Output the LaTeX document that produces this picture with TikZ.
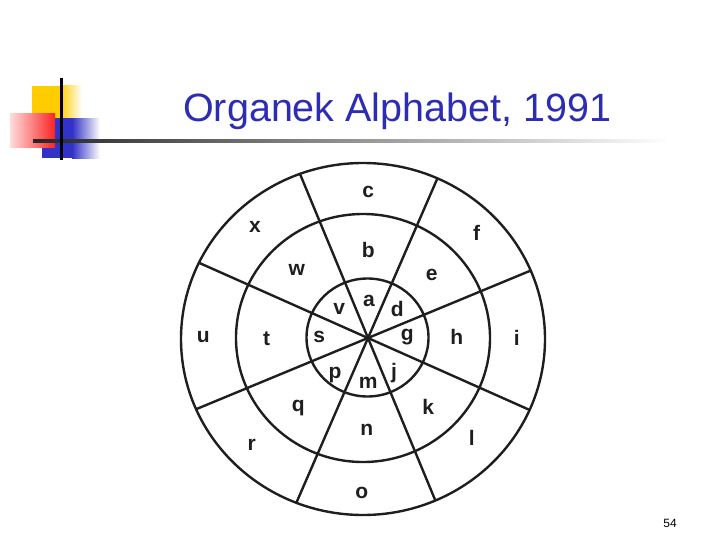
\documentclass[tikz,border=0pt]{standalone}
\usepackage{fontspec}
\setmainfont{Liberation Sans}
\definecolor{titleblue}{RGB}{45,45,180}
\definecolor{decoyellow}{RGB}{255,204,0}
\definecolor{decoblue}{RGB}{50,50,200}
\definecolor{decored}{RGB}{250,35,35}
\definecolor{decopink}{RGB}{255,220,220}
\definecolor{ink}{RGB}{30,30,30}
\tikzset{
  ring/.style={draw=ink, line width=2.4pt},
  spoke/.style={draw=ink, line width=2.4pt},
  ltr/.style={font=\fontsize{21}{21}\selectfont\bfseries, text=ink, inner sep=0pt},
}
\begin{document}
\begin{tikzpicture}[x=1pt,y=-1pt]
\useasboundingbox (0,0) rectangle (720,540);

% decoration
\fill[decoyellow] (31.7,86) rectangle (60,120);
\shade[left color=decoyellow, right color=white] (60,86) rectangle (82,120);
\fill[decoblue] (41.7,118.3) rectangle (72,158.3);
\shade[left color=decoblue, right color=white] (72,118.3) rectangle (100,158.3);
\shade[left color=decopink, right color=decored] (10,113.3) rectangle (55,147.3);
\shade[left color=black!85, right color=white] (33,139.6) rectangle (670,142.4);
\draw[black, line width=3pt] (61,78) -- (61,160);

% title and page number
\node[anchor=base west, font=\fontsize{39.5}{40}\selectfont, text=titleblue, inner sep=0pt] (title) at (183,121.7) {Organek Alphabet, 1991};
\node[font=\fontsize{12}{12}\selectfont, inner sep=0pt] (pg) at (670,523) {54};

% rings
\coordinate (C) at (368,338);
\draw[ring] (363,339) ellipse [x radius=182, y radius=176];
\draw[ring] (363,338) ellipse [x radius=127, y radius=124];
\draw[ring] (367.5,337.5) ellipse [x radius=61, y radius=59];

% spokes
\coordinate (l1a) at (299.9,173.7); \coordinate (l1b) at (435.3,500.4);
\coordinate (l2a) at (437.4,178.4); \coordinate (l2b) at (296.3,502.9);
\coordinate (l3a) at (530.6,270.6); \coordinate (l3b) at (196.1,409.2);
\coordinate (l4a) at (198.8,262.7); \coordinate (l4b) at (529.5,409.9);
\draw[spoke] (l1a) -- (l1b);
\draw[spoke] (l2a) -- (l2b);
\draw[spoke] (l3a) -- (l3b);
\draw[spoke] (l4a) -- (l4b);
\fill[ink] (C) circle [radius=2.6];

% letters
\node[ltr] (c) at (368.3,191.7) {c};
\node[ltr] (x) at (255,226.7) {x};
\node[ltr] (f) at (476.7,233.3) {f};
\node[ltr] (b) at (368.3,250) {b};
\node[ltr] (w) at (296.7,270) {w};
\node[ltr] (e) at (431.7,275) {e};
\node[ltr] (v) at (339.3,309) {v};
\node[ltr] (a) at (369,300.7) {a};
\node[ltr] (d) at (397.3,309.3) {d};
\node[ltr] (u) at (203.3,336.7) {u};
\node[ltr] (t) at (266.7,338.3) {t};
\node[ltr] (s) at (319.3,337.3) {s};
\node[ltr] (g) at (407.3,337.3) {g};
\node[ltr] (h) at (456.7,336.7) {h};
\node[ltr] (i) at (516.7,338.3) {i};
\node[ltr] (p) at (335,375) {p};
\node[ltr] (m) at (368.3,383.3) {m};
\node[ltr] (j) at (394,373.3) {j};
\node[ltr] (q) at (298.3,408.3) {q};
\node[ltr] (k) at (428.3,406.7) {k};
\node[ltr] (n) at (366.7,430) {n};
\node[ltr] (l) at (471.7,438.3) {l};
\node[ltr] (r) at (251.7,445) {r};
\node[ltr] (o) at (361.7,493.3) {o};
\end{tikzpicture}
\end{document}
